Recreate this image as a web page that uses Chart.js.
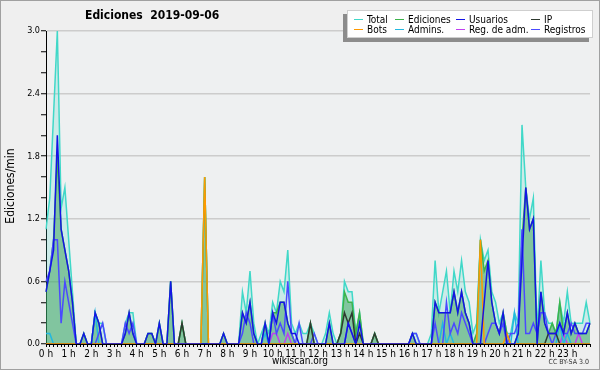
<!DOCTYPE html>
<html>
<head>
<meta charset="utf-8">
<script src="https://cdn.jsdelivr.net/npm/chart.js@4/dist/chart.umd.min.js"></script>
<style>
    html, body { margin: 0; padding: 0; background: #efefef; }
    canvas { display: block; }
</style>
</head>
<body>
<canvas id="edicionesChart" width="600" height="370"></canvas>
<script>
const chartTitle = 'Ediciones  2019-09-06';
const yAxisTitle = 'Ediciones/min';
const footerText = 'wikiscan.org';
const licenseText = 'CC BY-SA 3.0';

const hourLabels = ['0 h', '1 h', '2 h', '3 h', '4 h', '5 h', '6 h', '7 h', '8 h', '9 h', '10 h', '11 h',
    '12 h', '13 h', '14 h', '15 h', '16 h', '17 h', '18 h', '19 h', '20 h', '21 h', '22 h', '23 h'];
const yTickLabels = ['0.0', '0.6', '1.2', '1.8', '2.4', '3.0'];

// one value per 10 minutes, rows = hours (0 h .. 23 h), last value = 24 h
const total = [
    1.1, 1.4, 2.2, 3.0, 1.3, 1.5,
    1.0, 0.5, 0, 0, 0.1, 0,
    0, 0.3, 0.2, 0.2, 0, 0,
    0, 0, 0, 0.2, 0.3, 0.3,
    0, 0, 0, 0.1, 0.1, 0,
    0.2, 0, 0, 0.6, 0, 0,
    0.2, 0, 0, 0, 0, 0,
    1.6, 0, 0, 0, 0, 0.1,
    0, 0, 0, 0, 0.5, 0.3,
    0.7, 0.2, 0, 0.1, 0.2, 0.1,
    0.4, 0.3, 0.6, 0.5, 0.9, 0.2,
    0.1, 0.2, 0.1, 0.1, 0.2, 0.1,
    0, 0, 0.1, 0.3, 0.1, 0,
    0.1, 0.6, 0.5, 0.5, 0.1, 0.3,
    0, 0, 0, 0.1, 0, 0,
    0, 0, 0, 0, 0, 0,
    0, 0.1, 0.1, 0, 0, 0,
    0.1, 0.8, 0.3, 0.5, 0.7, 0.3,
    0.7, 0.5, 0.8, 0.5, 0.4, 0.1,
    0.2, 1.0, 0.8, 0.9, 0.5, 0.4,
    0.2, 0.3, 0.1, 0.1, 0.3, 0.2,
    2.1, 1.5, 1.2, 1.4, 0.1, 0.8,
    0.3, 0.2, 0.2, 0.1, 0.4, 0.2,
    0.5, 0.2, 0.2, 0.2, 0.2, 0.4,
    0.2
];

const ediciones = [
    0.5, 0.7, 1.0, 1.8, 1.1, 0.9,
    0.7, 0.4, 0, 0, 0.1, 0,
    0, 0.3, 0.2, 0, 0, 0,
    0, 0, 0, 0.1, 0.3, 0.1,
    0, 0, 0, 0.1, 0.1, 0,
    0.2, 0, 0, 0.6, 0, 0,
    0.2, 0, 0, 0, 0, 0,
    1.6, 0, 0, 0, 0, 0.1,
    0, 0, 0, 0, 0.3, 0.2,
    0.4, 0.1, 0, 0, 0.2, 0,
    0.3, 0.3, 0.4, 0.4, 0.2, 0.1,
    0, 0, 0, 0, 0.2, 0,
    0, 0, 0, 0.2, 0, 0,
    0.1, 0.5, 0.4, 0.4, 0.1, 0.3,
    0, 0, 0, 0.1, 0, 0,
    0, 0, 0, 0, 0, 0,
    0, 0.1, 0, 0, 0, 0,
    0, 0.4, 0.3, 0.3, 0.3, 0.3,
    0.5, 0.3, 0.5, 0.3, 0.2, 0,
    0.1, 1.0, 0.7, 0.8, 0.4, 0.2,
    0.1, 0.3, 0.1, 0, 0, 0.1,
    1.0, 1.5, 1.1, 1.2, 0, 0.5,
    0.2, 0.1, 0.2, 0.1, 0.4, 0.1,
    0.3, 0.1, 0.2, 0.1, 0.1, 0.1,
    0.2
];

const usuarios = [
    0.5, 0.7, 0.9, 2.0, 1.1, 0.9,
    0.7, 0.4, 0, 0, 0.1, 0,
    0, 0.3, 0.2, 0, 0, 0,
    0, 0, 0, 0.1, 0.3, 0.1,
    0, 0, 0, 0.1, 0.1, 0,
    0.2, 0, 0, 0.6, 0, 0,
    0, 0, 0, 0, 0, 0,
    0, 0, 0, 0, 0, 0.1,
    0, 0, 0, 0, 0.3, 0.2,
    0.4, 0.1, 0, 0, 0.2, 0,
    0.3, 0.2, 0.4, 0.4, 0.2, 0.1,
    0.1, 0, 0, 0, 0, 0,
    0, 0, 0, 0.2, 0, 0,
    0, 0, 0.2, 0.1, 0, 0.2,
    0, 0, 0, 0, 0, 0,
    0, 0, 0, 0, 0, 0,
    0, 0.1, 0, 0, 0, 0,
    0, 0.4, 0.3, 0.3, 0.3, 0.3,
    0.5, 0.3, 0.5, 0.3, 0.2, 0,
    0, 0, 0.4, 0.8, 0.4, 0.2,
    0.1, 0.3, 0, 0, 0, 0.1,
    0.8, 1.5, 1.1, 1.2, 0, 0.5,
    0.2, 0.1, 0.1, 0.1, 0.2, 0.1,
    0.3, 0.1, 0.2, 0.1, 0.1, 0.1,
    0.2
];

const ip = [
    0, 0, 0, 0, 0, 0,
    0, 0, 0, 0, 0, 0,
    0, 0, 0, 0, 0, 0,
    0, 0, 0, 0, 0, 0,
    0, 0, 0, 0, 0, 0,
    0, 0, 0, 0, 0, 0,
    0.2, 0, 0, 0, 0, 0,
    0, 0, 0, 0, 0, 0,
    0, 0, 0, 0, 0, 0,
    0, 0, 0, 0, 0, 0,
    0, 0, 0, 0, 0, 0,
    0, 0, 0, 0, 0.2, 0,
    0, 0, 0, 0, 0, 0,
    0.1, 0.3, 0.2, 0.3, 0, 0.1,
    0, 0, 0, 0.1, 0, 0,
    0, 0, 0, 0, 0, 0,
    0, 0, 0, 0, 0, 0,
    0, 0, 0, 0, 0, 0,
    0, 0, 0, 0, 0, 0,
    0, 0, 0, 0, 0, 0,
    0, 0, 0, 0, 0, 0,
    0, 0, 0, 0, 0, 0,
    0, 0.1, 0.1, 0.1, 0, 0,
    0, 0, 0, 0, 0, 0,
    0
];

const bots = [
    0, 0, 0, 0, 0, 0,
    0, 0, 0, 0, 0, 0,
    0, 0, 0, 0, 0, 0,
    0, 0, 0, 0, 0, 0,
    0, 0, 0, 0, 0, 0,
    0, 0, 0, 0, 0, 0,
    0, 0, 0, 0, 0, 0,
    1.6, 0, 0, 0, 0, 0,
    0, 0, 0, 0, 0, 0,
    0, 0, 0, 0, 0, 0,
    0, 0, 0, 0, 0, 0,
    0, 0, 0, 0, 0, 0,
    0, 0, 0, 0, 0, 0,
    0, 0, 0, 0, 0, 0,
    0, 0, 0, 0, 0, 0,
    0, 0, 0, 0, 0, 0,
    0, 0, 0, 0, 0, 0,
    0, 0, 0, 0, 0, 0,
    0, 0, 0, 0, 0, 0,
    0, 1.0, 0, 0, 0, 0,
    0, 0, 0.1, 0, 0, 0,
    0, 0, 0, 0, 0, 0,
    0, 0, 0, 0, 0, 0,
    0, 0, 0, 0, 0, 0,
    0
];

const admins = [
    0.1, 0.1, 0, 0, 0, 0,
    0, 0, 0, 0, 0, 0,
    0, 0.3, 0, 0, 0, 0,
    0, 0, 0, 0, 0, 0,
    0, 0, 0, 0, 0, 0,
    0, 0, 0, 0, 0, 0,
    0, 0, 0, 0, 0, 0,
    0, 0, 0, 0, 0, 0,
    0, 0, 0, 0, 0, 0,
    0, 0, 0, 0, 0.1, 0,
    0, 0, 0, 0, 0, 0,
    0, 0, 0, 0, 0, 0,
    0, 0, 0, 0, 0, 0,
    0, 0, 0, 0, 0, 0,
    0, 0, 0, 0, 0, 0,
    0, 0, 0, 0, 0, 0,
    0, 0, 0, 0, 0, 0,
    0, 0, 0, 0.2, 0, 0.1,
    0, 0, 0, 0, 0, 0,
    0, 0, 0, 0, 0, 0,
    0, 0, 0, 0, 0.3, 0,
    0, 0, 0, 0, 0, 0,
    0, 0, 0, 0, 0.2, 0,
    0.1, 0, 0, 0, 0, 0,
    0
];

const regAdm = [
    0, 0, 0, 0, 0, 0,
    0, 0, 0, 0, 0, 0,
    0, 0, 0, 0, 0, 0,
    0, 0, 0, 0, 0, 0,
    0, 0, 0, 0, 0, 0,
    0, 0, 0, 0, 0, 0,
    0, 0, 0, 0, 0, 0,
    0, 0, 0, 0, 0, 0,
    0, 0, 0, 0, 0, 0,
    0, 0, 0, 0, 0, 0,
    0.1, 0.1, 0, 0, 0.1, 0,
    0, 0, 0, 0, 0, 0,
    0, 0, 0, 0, 0, 0,
    0, 0, 0, 0, 0, 0,
    0, 0, 0, 0, 0, 0,
    0, 0, 0, 0, 0, 0,
    0, 0, 0, 0, 0, 0,
    0, 0, 0, 0, 0, 0,
    0, 0, 0, 0, 0, 0,
    0, 0, 0, 0, 0, 0,
    0, 0, 0, 0, 0, 0,
    0, 0, 0, 0, 0, 0,
    0, 0, 0, 0, 0, 0.1,
    0, 0, 0, 0.1, 0, 0,
    0
];

const registros = [
    0.6, 0.7, 1.0, 1.0, 0.2, 0.6,
    0.4, 0.2, 0, 0, 0, 0,
    0, 0, 0.1, 0.2, 0, 0,
    0, 0, 0, 0.2, 0.1, 0.2,
    0, 0, 0, 0, 0, 0,
    0, 0, 0, 0, 0, 0,
    0, 0, 0, 0, 0, 0,
    0, 0, 0, 0, 0, 0,
    0, 0, 0, 0, 0.1, 0.3,
    0.2, 0, 0, 0, 0, 0,
    0.3, 0.1, 0.2, 0.1, 0.6, 0.1,
    0, 0.2, 0, 0, 0, 0.1,
    0, 0, 0, 0, 0, 0,
    0, 0, 0.2, 0.1, 0, 0,
    0, 0, 0, 0, 0, 0,
    0, 0, 0, 0, 0, 0,
    0, 0.1, 0.1, 0, 0, 0,
    0, 0.2, 0, 0, 0.4, 0.1,
    0.2, 0.1, 0.3, 0.2, 0.1, 0,
    0, 0, 0, 0.1, 0.2, 0.2,
    0.1, 0.2, 0, 0.1, 0.1, 0.2,
    1.1, 0.1, 0.1, 0.2, 0.1, 0.3,
    0.3, 0.1, 0, 0.1, 0.2, 0.1,
    0.1, 0.2, 0.1, 0.1, 0.1, 0.2,
    0.2
];

const theme = {
    bg: '#efefef',
    plotBg: '#eef0f1',
    frame: '#a0a0a0',
    grid: '#cccccc',
    axis: '#000000',
    text: '#000000'
};

const FONT = "'DejaVu Sans Condensed', 'DejaVu Sans', sans-serif";

// legend order follows the reference: two rows of four
const series = [
    { label: 'Total', data: total, color: '#40d8c8', fill: 'rgba(64, 216, 200, 0.2)', order: 9 },
    { label: 'Ediciones', data: ediciones, color: '#3cb44b', fill: 'rgba(55, 160, 85, 0.5)', order: 8 },
    { label: 'Usuarios', data: usuarios, color: '#1414e6', order: 1 },
    { label: 'IP', data: ip, color: '#2f3a30', order: 3 },
    { label: 'Bots', data: bots, color: '#ff9900', order: 2 },
    { label: 'Admins.', data: admins, color: '#22b8e0', order: 5 },
    { label: 'Reg. de adm.', data: regAdm, color: '#c040f0', order: 6 },
    { label: 'Registros', data: registros, color: '#4a4aff', order: 4 }
];

const legendCols = [367, 408, 469, 544];
const legendRows = [19, 29];

Chart.defaults.font.family = FONT;
Chart.defaults.color = theme.text;

function isMajorTick(value) {
    return yTickLabels.includes(Number(value).toFixed(1));
}

const decorPlugin = {
    id: 'decor',
    beforeDraw(chart) {
        const { ctx, chartArea } = chart;
        ctx.save();
        ctx.fillStyle = theme.bg;
        ctx.fillRect(0, 0, chart.width, chart.height);
        ctx.fillStyle = theme.plotBg;
        ctx.fillRect(chartArea.left, chartArea.top, chartArea.right - chartArea.left, chartArea.bottom - chartArea.top);
        ctx.restore();
    },
    afterDraw(chart) {
        const { ctx } = chart;
        ctx.save();

        ctx.strokeStyle = theme.frame;
        ctx.lineWidth = 1;
        ctx.strokeRect(0.5, 0.5, chart.width - 1, chart.height - 1);

        ctx.fillStyle = theme.text;
        ctx.textBaseline = 'middle';
        ctx.textAlign = 'left';
        ctx.font = `bold 12px ${FONT}`;
        ctx.fillText(chartTitle, 85, 16);

        ctx.save();
        ctx.translate(11, 186);
        ctx.rotate(-Math.PI / 2);
        ctx.textAlign = 'center';
        ctx.font = `12px ${FONT}`;
        ctx.fillText(yAxisTitle, 0, 0);
        ctx.restore();

        ctx.textAlign = 'center';
        ctx.font = `10px ${FONT}`;
        ctx.fillText(footerText, 300, 361);
        ctx.textAlign = 'right';
        ctx.font = `7px ${FONT}`;
        ctx.fillStyle = '#333';
        ctx.fillText(licenseText, 589, 362);

        drawLegend(ctx);
        ctx.restore();
    }
};

function drawLegend(ctx) {
    ctx.fillStyle = '#8c8c8c';
    ctx.fillRect(343, 14, 246, 28);
    ctx.fillStyle = '#ffffff';
    ctx.fillRect(347, 10, 246, 28);
    ctx.strokeStyle = '#cfcfcf';
    ctx.lineWidth = 1;
    ctx.strokeRect(347.5, 10.5, 245, 27);

    ctx.font = `10px ${FONT}`;
    ctx.textAlign = 'left';
    ctx.textBaseline = 'middle';
    series.forEach((item, index) => {
        const x = legendCols[index % 4];
        const y = legendRows[Math.floor(index / 4)];
        ctx.strokeStyle = item.color;
        ctx.lineWidth = 1;
        ctx.beginPath();
        ctx.moveTo(x - 13, y + 0.5);
        ctx.lineTo(x - 4, y + 0.5);
        ctx.stroke();
        ctx.fillStyle = theme.text;
        ctx.fillText(item.label, x, y + 1);
    });
}

const datasets = series.map((item) => ({
    label: item.label,
    data: item.data,
    borderColor: item.color,
    backgroundColor: item.fill || item.color,
    fill: item.fill ? 'origin' : false,
    borderWidth: 1.5,
    pointRadius: 0,
    tension: 0,
    order: item.order
}));

new Chart(document.getElementById('edicionesChart'), {
    type: 'line',
    data: {
        labels: total.map((_, i) => i),
        datasets
    },
    options: {
        responsive: false,
        devicePixelRatio: 1,
        animation: false,
        events: [],
        layout: { padding: { top: 31, right: 10, left: 0, bottom: 0 } },
        plugins: {
            legend: { display: false },
            title: { display: false },
            tooltip: { enabled: false }
        },
        scales: {
            x: {
                type: 'category',
                grid: {
                    drawOnChartArea: false,
                    drawTicks: true,
                    tickLength: 3,
                    tickColor: theme.axis,
                    tickWidth: 1
                },
                border: { color: theme.axis, width: 1 },
                ticks: {
                    autoSkip: false,
                    maxRotation: 0,
                    minRotation: 0,
                    padding: 1,
                    color: theme.text,
                    font: { size: 10 },
                    callback: (value, index) => (index % 6 === 0 ? (hourLabels[index / 6] ?? '') : '')
                },
                afterFit: (scale) => { scale.height = 26; }
            },
            y: {
                min: 0,
                max: 3,
                grid: {
                    color: (ctx) => (isMajorTick(ctx.tick.value) && ctx.tick.value > 0 ? theme.grid : 'rgba(0,0,0,0)'),
                    lineWidth: 1.5,
                    tickLength: 5,
                    tickColor: theme.axis,
                    tickWidth: 1
                },
                border: { color: theme.axis, width: 1 },
                ticks: {
                    stepSize: 0.2,
                    autoSkip: false,
                    padding: 1,
                    color: theme.text,
                    font: { size: 9 },
                    callback: (value) => (isMajorTick(value) ? Number(value).toFixed(1) : '')
                },
                afterFit: (scale) => { scale.width = 46; }
            }
        }
    },
    plugins: [decorPlugin]
});
</script>
</body>
</html>
